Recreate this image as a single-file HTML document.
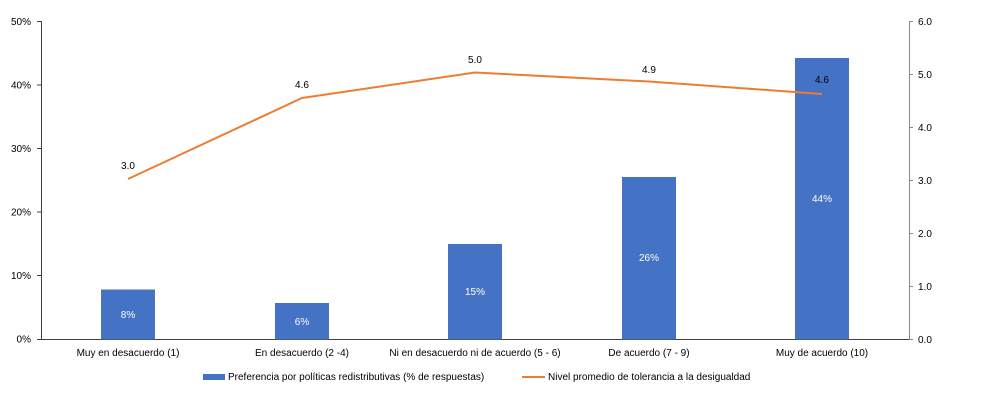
<!DOCTYPE html>
<html><head><meta charset="utf-8"><style>
html,body{margin:0;padding:0;background:#fff;}
svg{display:block;font-family:"Liberation Sans",sans-serif;}
</style></head><body>
<svg width="988" height="417" viewBox="0 0 988 417">
<g font-size="10" fill="#000">
<g text-anchor="end">
<text x="31" y="25">50%</text><text x="31" y="88.5">40%</text><text x="31" y="152">30%</text>
<text x="31" y="215.5">20%</text><text x="31" y="279">10%</text><text x="31" y="342.5">0%</text>
</g>
<g text-anchor="start">
<text x="918" y="25">6.0</text><text x="918" y="78">5.0</text><text x="918" y="131">4.0</text>
<text x="918" y="184">3.0</text><text x="918" y="237">2.0</text><text x="918" y="290">1.0</text><text x="918" y="343">0.0</text>
</g>
</g>
<g stroke="#404040" stroke-width="1">
<line x1="41.5" y1="21" x2="41.5" y2="339.5"/>
<line x1="41" y1="339.5" x2="909" y2="339.5"/>
<line x1="909.5" y1="21" x2="909.5" y2="339.5" stroke="#888"/>
<line x1="37" y1="21.5" x2="41" y2="21.5"/><line x1="37" y1="85" x2="41" y2="85"/><line x1="37" y1="148.5" x2="41" y2="148.5"/>
<line x1="37" y1="212" x2="41" y2="212"/><line x1="37" y1="275.5" x2="41" y2="275.5"/><line x1="37" y1="339.5" x2="41" y2="339.5"/>
<g stroke="#888"><line x1="909" y1="21.5" x2="913" y2="21.5"/><line x1="909" y1="74.5" x2="913" y2="74.5"/><line x1="909" y1="127.5" x2="913" y2="127.5"/>
<line x1="909" y1="180.5" x2="913" y2="180.5"/><line x1="909" y1="233.5" x2="913" y2="233.5"/><line x1="909" y1="286.5" x2="913" y2="286.5"/><line x1="909" y1="339.5" x2="913" y2="339.5"/></g>
</g>
<g fill="#4472c4">
<rect x="101" y="289.5" width="54" height="50"/>
<rect x="275" y="303" width="54" height="36.5"/>
<rect x="448" y="244" width="54" height="95.5"/>
<rect x="622" y="177" width="54" height="162.5"/>
<rect x="795" y="58" width="54" height="281.5"/>
</g>
<g fill="#fff" font-size="10" text-anchor="middle">
<text x="128" y="318">8%</text><text x="302" y="325">6%</text><text x="475" y="295">15%</text>
<text x="649" y="261">26%</text><text x="822" y="202">44%</text>
</g>
<polyline points="128,179 302,98 475,72.5 649,81.5 822,94" fill="none" stroke="#ed7d31" stroke-width="2"/>
<g font-size="10" text-anchor="middle">
<text x="128" y="169">3.0</text><text x="302" y="88">4.6</text><text x="475" y="63">5.0</text>
<text x="649" y="73">4.9</text><text x="822" y="83">4.6</text>
</g>
<g font-size="10" text-anchor="middle">
<text x="128" y="356">Muy en desacuerdo (1)</text>
<text x="302" y="356">En desacuerdo (2 -4)</text>
<text x="475" y="356">Ni en desacuerdo ni de acuerdo (5 - 6)</text>
<text x="649" y="356">De acuerdo (7 - 9)</text>
<text x="822" y="356">Muy de acuerdo (10)</text>
</g>
<rect x="203" y="374" width="22" height="6" fill="#4472c4"/>
<text x="228" y="380" font-size="10">Preferencia por políticas redistributivas (% de respuestas)</text>
<line x1="522" y1="377" x2="545" y2="377" stroke="#ed7d31" stroke-width="2"/>
<text x="548" y="380" font-size="10">Nivel promedio de tolerancia a la desigualdad</text>
</svg>
</body></html>
